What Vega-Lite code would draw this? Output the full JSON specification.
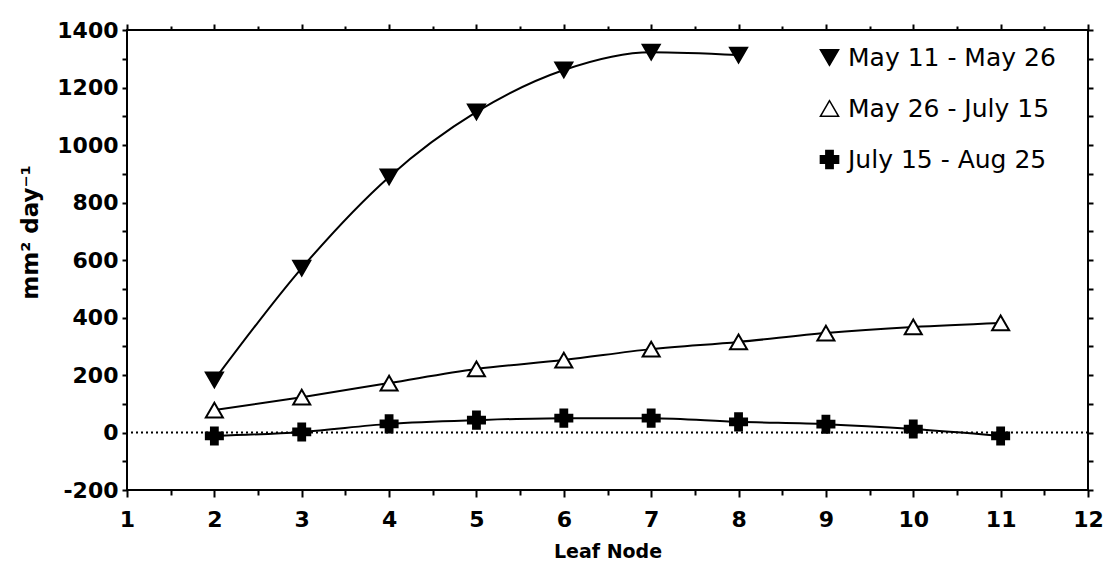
{
  "$schema": "https://vega.github.io/schema/vega-lite/v6.json",
  "width": 961,
  "height": 460,
  "autosize": {"type": "none"},
  "padding": {"left": 127, "top": 30, "right": 18, "bottom": 73},
  "background": "white",
  "config": {
    "view": {"stroke": "black", "strokeWidth": 2},
    "font": "DejaVu Sans",
    "axis": {"domain": false, "grid": false, "tickColor": "black", "tickWidth": 2, "labelColor": "black", "titleColor": "black"}
  },
  "data": {
    "values": [
      {"node": 2, "rate": 183, "period": "May 11 - May 26"},
      {"node": 3, "rate": 572, "period": "May 11 - May 26"},
      {"node": 4, "rate": 889, "period": "May 11 - May 26"},
      {"node": 5, "rate": 1115, "period": "May 11 - May 26"},
      {"node": 6, "rate": 1261, "period": "May 11 - May 26"},
      {"node": 7, "rate": 1323, "period": "May 11 - May 26"},
      {"node": 8, "rate": 1313, "period": "May 11 - May 26"},
      {"node": 2, "rate": 78, "period": "May 26 - July 15"},
      {"node": 3, "rate": 123, "period": "May 26 - July 15"},
      {"node": 4, "rate": 172, "period": "May 26 - July 15"},
      {"node": 5, "rate": 221, "period": "May 26 - July 15"},
      {"node": 6, "rate": 252, "period": "May 26 - July 15"},
      {"node": 7, "rate": 290, "period": "May 26 - July 15"},
      {"node": 8, "rate": 315, "period": "May 26 - July 15"},
      {"node": 9, "rate": 346, "period": "May 26 - July 15"},
      {"node": 10, "rate": 367, "period": "May 26 - July 15"},
      {"node": 11, "rate": 381, "period": "May 26 - July 15"},
      {"node": 2, "rate": -12, "period": "July 15 - Aug 25"},
      {"node": 3, "rate": 2, "period": "July 15 - Aug 25"},
      {"node": 4, "rate": 30, "period": "July 15 - Aug 25"},
      {"node": 5, "rate": 43, "period": "July 15 - Aug 25"},
      {"node": 6, "rate": 50, "period": "July 15 - Aug 25"},
      {"node": 7, "rate": 50, "period": "July 15 - Aug 25"},
      {"node": 8, "rate": 37, "period": "July 15 - Aug 25"},
      {"node": 9, "rate": 29, "period": "July 15 - Aug 25"},
      {"node": 10, "rate": 12, "period": "July 15 - Aug 25"},
      {"node": 11, "rate": -12, "period": "July 15 - Aug 25"}
    ]
  },
  "resolve": {"axis": {"x": "independent", "y": "independent"}},
  "layer": [
    {
      "data": {"values": [{"zero": 0}]},
      "mark": {"type": "rule", "strokeDash": [2, 3], "strokeWidth": 2, "color": "black"},
      "encoding": {
        "y": {"field": "zero", "type": "quantitative", "axis": null, "scale": {"domain": [-200, 1400], "nice": false, "zero": false}}
      }
    },
    {
      "mark": {"type": "line", "interpolate": "monotone", "color": "black", "strokeWidth": 2},
      "encoding": {
        "x": {
          "field": "node", "type": "quantitative",
          "scale": {"domain": [1, 12], "nice": false, "zero": false},
          "axis": {
            "orient": "bottom",
            "title": "Leaf Node",
            "titleFontSize": 19, "titleFontWeight": "bold", "titlePadding": 12,
            "values": [1, 1.5, 2, 2.5, 3, 3.5, 4, 4.5, 5, 5.5, 6, 6.5, 7, 7.5, 8, 8.5, 9, 9.5, 10, 10.5, 11, 11.5, 12],
            "labelExpr": "datum.value % 1 === 0 ? '' + datum.value : ''",
            "labelOverlap": false, "labelFlush": false,
            "labelFontSize": 22, "labelFontWeight": "bold", "labelPadding": 12,
            "tickSize": {"condition": {"test": "datum.value % 1 === 0", "value": 7}, "value": 5}
          }
        },
        "y": {
          "field": "rate", "type": "quantitative",
          "scale": {"domain": [-200, 1400], "nice": false, "zero": false},
          "axis": {
            "orient": "left",
            "title": "mm² day⁻¹",
            "titleFontSize": 23, "titleFontWeight": "bold", "titlePadding": 14, "titleY": 202,
            "values": [-200, -100, 0, 100, 200, 300, 400, 500, 600, 700, 800, 900, 1000, 1100, 1200, 1300, 1400],
            "labelExpr": "datum.value % 200 === 0 ? '' + datum.value : ''",
            "labelOverlap": false, "labelFlush": false,
            "labelFontSize": 22, "labelFontWeight": "bold", "labelPadding": 4,
            "tickSize": 5
          }
        },
        "detail": {"field": "period"}
      }
    },
    {
      "mark": {"type": "point", "filled": true, "stroke": "black", "strokeWidth": 2, "opacity": 1},
      "encoding": {
        "x": {
          "field": "node", "type": "quantitative",
          "axis": {
            "orient": "top", "title": null, "labels": false,
            "values": [1, 1.5, 2, 2.5, 3, 3.5, 4, 4.5, 5, 5.5, 6, 6.5, 7, 7.5, 8, 8.5, 9, 9.5, 10, 10.5, 11, 11.5, 12],
            "tickSize": {"condition": {"test": "datum.value % 1 === 0", "value": 6}, "value": 4}
          }
        },
        "y": {
          "field": "rate", "type": "quantitative",
          "axis": {
            "orient": "right", "title": null, "labels": false,
            "values": [-200, -100, 0, 100, 200, 300, 400, 500, 600, 700, 800, 900, 1000, 1100, 1200, 1300, 1400],
            "tickSize": 5
          }
        },
        "shape": {
          "field": "period", "type": "nominal",
          "scale": {"domain": ["May 11 - May 26", "May 26 - July 15", "July 15 - Aug 25"], "range": ["triangle-down", "triangle-up", "cross"]},
          "legend": {
            "title": null, "orient": "none", "legendX": 690, "legendY": 15,
            "labelFontSize": 25, "labelColor": "black", "labelOffset": 6, "labelLimit": 400,
            "rowPadding": 25, "padding": 0, "symbolSize": 330,
            "encode": {"symbols": {"update": {"stroke": {"value": "black"}, "strokeWidth": {"value": 2}, "opacity": {"value": 1}, "size": {"value": 330}}}}
          }
        },
        "fill": {
          "field": "period", "type": "nominal",
          "scale": {"domain": ["May 11 - May 26", "May 26 - July 15", "July 15 - Aug 25"], "range": ["black", "white", "black"]},
          "legend": {
            "title": null, "orient": "none", "legendX": 690, "legendY": 15,
            "labelFontSize": 25, "labelColor": "black", "labelOffset": 6, "labelLimit": 400,
            "rowPadding": 25, "padding": 0, "symbolSize": 330,
            "encode": {"symbols": {"update": {"stroke": {"value": "black"}, "strokeWidth": {"value": 2}, "opacity": {"value": 1}, "size": {"value": 330}}}}
          }
        },
        "size": {"value": 290}
      }
    }
  ]
}
